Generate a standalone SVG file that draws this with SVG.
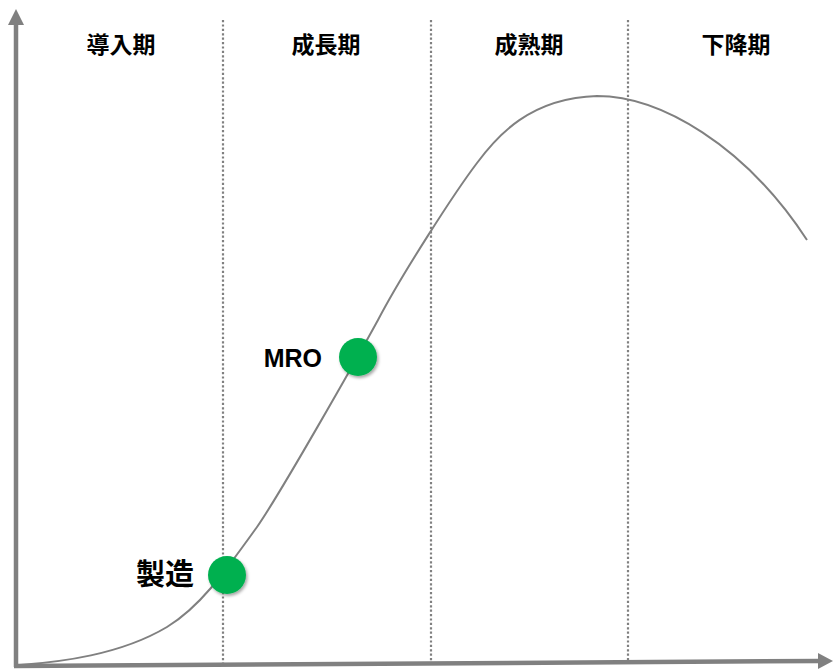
<svg xmlns="http://www.w3.org/2000/svg" width="833" height="669" viewBox="0 0 833 669">
<style>
.ax{stroke:#808080;stroke-width:4.5;fill:none}
.div{stroke:#808080;stroke-width:2.2;stroke-dasharray:2.2,2.2;fill:none}
.curve{stroke:#808080;stroke-width:2;fill:none}
.hd{font-family:"Noto Sans CJK JP","Noto Sans CJK SC",sans-serif;font-weight:700;font-size:23px;fill:#000;text-anchor:middle}
.lbl{font-family:"Noto Sans CJK JP","Noto Sans CJK SC",sans-serif;font-weight:700;font-size:29px;fill:#000;text-anchor:middle}
.mro{font-family:"Liberation Sans",Arial,sans-serif;font-weight:700;font-size:25px;fill:#000;text-anchor:end}
.dot{fill:#00B050;filter:url(#sh)}
</style>
<defs>
<filter id="sh" x="-50%" y="-50%" width="200%" height="200%">
<feDropShadow dx="1.5" dy="2" stdDeviation="1.5" flood-color="#000" flood-opacity="0.35"/>
</filter>
</defs>
<g id="axes">
<line class="ax" x1="16" y1="667" x2="16" y2="22"/>
<polygon points="16,9 8,25 24,25" fill="#808080"/>
<line class="ax" x1="14" y1="666" x2="820" y2="661"/>
<polygon points="833,661 818,653 818,669" fill="#808080"/>
</g>
<g id="dividers">
<line class="div" x1="223" y1="20" x2="223" y2="664"/>
<line class="div" x1="431" y1="20" x2="431" y2="663"/>
<line class="div" x1="628" y1="20" x2="628" y2="662"/>
</g>
<g id="headers">
<text class="hd" x="121" y="53">導入期</text>
<text class="hd" x="326" y="53">成長期</text>
<text class="hd" x="529" y="53">成熟期</text>
<text class="hd" x="736" y="53">下降期</text>
</g>
<g id="connectors">
<path class="curve" d="M20,665 C60,662 120,655 167,627 C200,607 224,573 257,527 C280,494 355,362 378,320 C402,274 455,192 477,163 C497,136 530,98 597,96 C660,96 745,145 807,240"/>
</g>
<g id="node-seizo">
<circle class="dot" cx="227" cy="575" r="19"/>
<text class="lbl" x="165" y="585">製造</text>
</g>
<g id="node-mro">
<circle class="dot" cx="358" cy="357" r="19"/>
<text class="mro" x="322" y="367">MRO</text>
</g>
</svg>
